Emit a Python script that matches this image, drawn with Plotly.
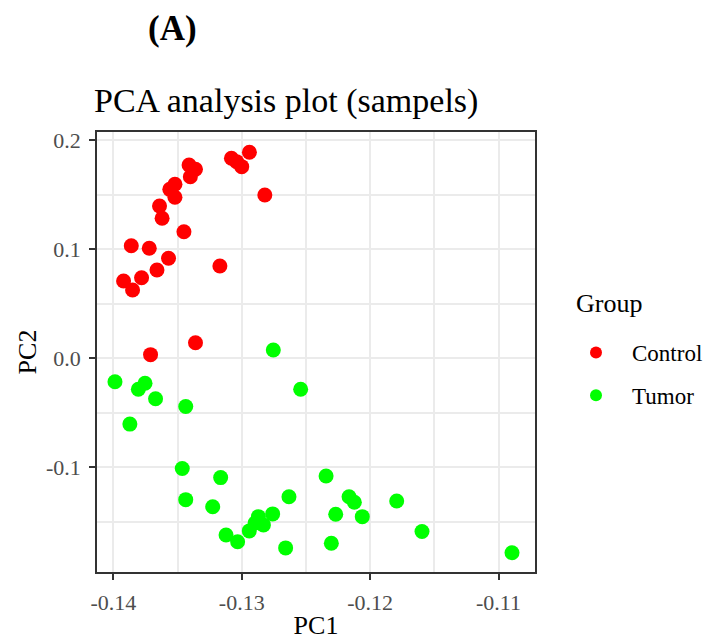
import plotly.graph_objects as go

# ---- data ----
control_pc1 = [-0.1294, -0.1308, -0.1304, -0.1300, -0.1282, -0.1341, -0.1336, -0.1340,
               -0.1352, -0.1356, -0.1352, -0.1364, -0.1362, -0.1345, -0.1386, -0.1372,
               -0.1357, -0.1366, -0.1378, -0.1392, -0.1385, -0.1317, -0.1336, -0.1371]
control_pc2 = [0.189, 0.1835, 0.1804, 0.1758, 0.1498, 0.1773, 0.1734, 0.1666,
               0.1596, 0.155, 0.1477, 0.1397, 0.1284, 0.1161, 0.1033, 0.1009,
               0.0917, 0.081, 0.0739, 0.0709, 0.0627, 0.0847, 0.0143, 0.0033]

tumor_pc1 = [-0.13987, -0.13753, -0.13805, -0.13671, -0.13436, -0.13871, -0.12541, -0.12754,
             -0.13463, -0.13436, -0.13164, -0.13226, -0.13122, -0.13032, -0.12941, -0.12870,
             -0.12896, -0.12831, -0.12759, -0.12632, -0.12658, -0.12343, -0.12164, -0.12123,
             -0.12268, -0.12061, -0.11793, -0.11596, -0.12302, -0.10895]
tumor_pc2 = [-0.0215, -0.0229, -0.0284, -0.0372, -0.0442, -0.0604, -0.0284, 0.0076,
             -0.1012, -0.1297, -0.1095, -0.1362, -0.1621, -0.1683, -0.1584, -0.1453,
             -0.1511, -0.1529, -0.1428, -0.1270, -0.1740, -0.1080, -0.1270, -0.1321,
             -0.1431, -0.1453, -0.1310, -0.1590, -0.1697, -0.1784]

group_names = ["Control", "Tumor"]
x_tick_vals = [-0.14, -0.13, -0.12, -0.11]
x_tick_labels = ["-0.14", "-0.13", "-0.12", "-0.11"]
y_tick_vals = [-0.1, 0.0, 0.1, 0.2]
y_tick_labels = ["-0.1", "0.0", "0.1", "0.2"]

FONT = "Liberation Serif"

fig = go.Figure()
fig.add_trace(go.Scatter(x=control_pc1, y=control_pc2, mode="markers", name=group_names[0],
                         legendgroup="c",
                         marker=dict(color="#FF0000", size=15, line=dict(width=0))))
fig.add_trace(go.Scatter(x=tumor_pc1, y=tumor_pc2, mode="markers", name=group_names[1],
                         legendgroup="t",
                         marker=dict(color="#00FF00", size=15, line=dict(width=0))))

axis_common = dict(
    showgrid=True, gridcolor="#EBEBEB", gridwidth=1.5,
    showline=True, linecolor="#333333", linewidth=1.5, mirror=True,
    ticks="outside", ticklen=6, tickcolor="#333333", tickwidth=1.5,
    tickfont=dict(family=FONT, size=22, color="#4D4D4D"),
    zeroline=False, automargin=False,
    minor=dict(showgrid=True, gridcolor="#EBEBEB", gridwidth=1.5, ticks=""),
)

fig.update_xaxes(**axis_common, range=[-0.14127, -0.10716],
                 tickvals=x_tick_vals, ticktext=x_tick_labels,
                 title=dict(text="PC1", font=dict(family=FONT, size=26, color="black"), standoff=2),
                 ticklabelstandoff=4)
fig.update_yaxes(**axis_common, range=[-0.1961, 0.2076],
                 tickvals=y_tick_vals, ticktext=y_tick_labels,
                 title=dict(text="PC2", font=dict(family=FONT, size=26, color="black"), standoff=2),
                 ticklabelstandoff=4)
fig.update_xaxes(minor=dict(tickvals=[-0.145, -0.135, -0.125, -0.115, -0.105]))
fig.update_yaxes(minor=dict(tickvals=[-0.15, -0.05, 0.05, 0.15]))

fig.update_layout(
    width=708, height=643,
    margin=dict(l=97, r=173, t=132, b=71, autoexpand=False),
    paper_bgcolor="white", plot_bgcolor="white",
    font=dict(family=FONT, color="black"),
    title=dict(text="PCA analysis plot (sampels)", font=dict(family=FONT, size=34, color="black"),
               x=94 / 708, xanchor="left", xref="container",
               y=1 - 100 / 643, yanchor="middle", yref="container"),
    legend=dict(font=dict(family=FONT, size=23, color="black"),
                x=(463 ) / 438, xanchor="left", y=(572 - 331) / 440, yanchor="top",
                itemsizing="constant", itemwidth=62, tracegroupgap=10, traceorder="grouped",
                bgcolor="rgba(0,0,0,0)"),
    annotations=[
        dict(text="<b>(A)</b>", xref="paper", yref="paper",
             x=(172 - 97) / 438, y=(572 - 28) / 440, xanchor="center", yanchor="middle",
             showarrow=False, font=dict(family=FONT, size=35, color="black")),
        dict(text="Group", xref="paper", yref="paper",
             x=(574 - 97) / 438, y=(572 - 303) / 440, xanchor="left", yanchor="middle",
             showarrow=False, font=dict(family=FONT, size=26, color="black")),
    ],
)

fig.write_html("out.html")
